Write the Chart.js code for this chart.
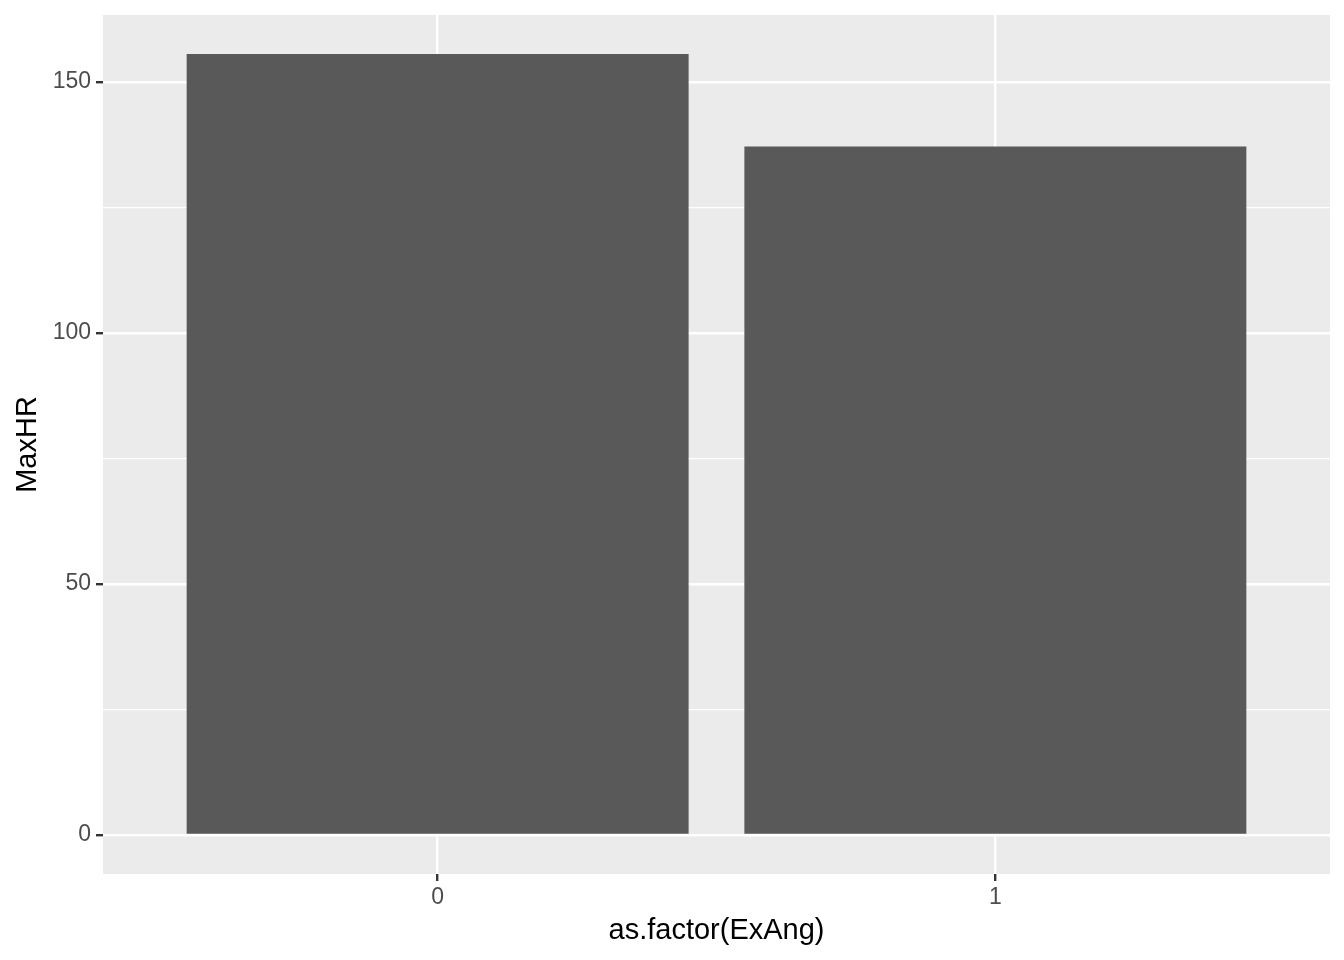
<!DOCTYPE html>
<html>
<head>
<meta charset="utf-8">
<script src="https://cdn.jsdelivr.net/npm/chart.js@4"></script>
<style>
  html, body { margin:0; padding:0; background:#fff; }
  #wrap { width:1344px; height:960px; }
</style>
</head>
<body>
<div id="wrap"><canvas id="chart" width="1344" height="960"></canvas></div>
<script>
// data
const categories = ['0', '1'];
const maxHR = [155.6, 137.2];
const yTicks = [0, 25, 50, 75, 100, 125, 150];
const yLabelTicks = [0, 50, 100, 150];

// ggplot default expansion: 5% of range each side (y), 0.6 for discrete x
const yLo = Math.min(0, ...maxHR), yHi = Math.max(...maxHR);
const yPad = (yHi - yLo) * 0.05;

const FONT = '"Liberation Sans", Arial, Helvetica, sans-serif';

const panelBg = {
  id: 'panelBg',
  beforeDraw(chart){
    const { ctx, chartArea: a } = chart;
    ctx.save();
    ctx.fillStyle = '#EBEBEB';
    ctx.fillRect(a.left, a.top, a.right - a.left, a.bottom - a.top);
    ctx.restore();
  }
};

const isMajor = v => yLabelTicks.includes(v);

function noEdgePad(s){
  s.paddingTop = 0; s.paddingBottom = 0; s.paddingLeft = 0; s.paddingRight = 0;
}

new Chart(document.getElementById('chart'), {
  type: 'bar',
  data: {
    datasets: [{
      label: 'MaxHR',
      data: categories.map((c, i) => ({ x: i, y: maxHR[i] })),
      backgroundColor: '#595959',
      borderWidth: 0,
      categoryPercentage: 0.9,
      barPercentage: 1.0
    }]
  },
  options: {
    responsive: false,
    animation: false,
    devicePixelRatio: 1,
    layout: { padding: { left: 0, right: 14, top: 15, bottom: 0 } },
    plugins: { legend: { display: false }, tooltip: { enabled: false } },
    scales: {
      x: {
        type: 'linear',
        min: -0.6,
        max: categories.length - 1 + 0.6,
        offset: false,
        afterBuildTicks: s => { s.ticks = categories.map((c, i) => ({ value: i })); },
        afterFit: s => { s.height = 86; noEdgePad(s); },
        border: { display: false },
        grid: { offset: false, color: '#FFFFFF', lineWidth: 2.4, tickColor: '#333333', tickLength: 7, tickWidth: 2.4 },
        ticks: {
          callback: v => categories[v] ?? '',
          color: '#4D4D4D',
          font: { family: FONT, size: 23 },
          padding: 3,
          maxRotation: 0
        },
        title: {
          display: true,
          text: 'as.factor(ExAng)',
          color: '#000000',
          font: { family: FONT, size: 29 },
          padding: { top: 0, bottom: 12 }
        }
      },
      y: {
        min: yLo - yPad,
        max: yHi + yPad,
        afterBuildTicks: s => { s.ticks = yTicks.map(v => ({ value: v })); },
        afterFit: s => { s.width = 103; noEdgePad(s); },
        border: { display: false },
        grid: {
          color: '#FFFFFF',
          lineWidth: c => isMajor(c.tick.value) ? 2.4 : 1.2,
          tickColor: c => isMajor(c.tick.value) ? '#333333' : 'rgba(0,0,0,0)',
          tickLength: 7,
          tickWidth: 2.4
        },
        ticks: {
          callback: v => isMajor(v) ? String(v) : '',
          color: '#4D4D4D',
          font: { family: FONT, size: 23 },
          padding: 5
        },
        title: {
          display: true,
          text: 'MaxHR',
          color: '#000000',
          font: { family: FONT, size: 29 },
          padding: { top: 11, bottom: 0 }
        }
      }
    }
  },
  plugins: [panelBg]
});
</script>
</body>
</html>
